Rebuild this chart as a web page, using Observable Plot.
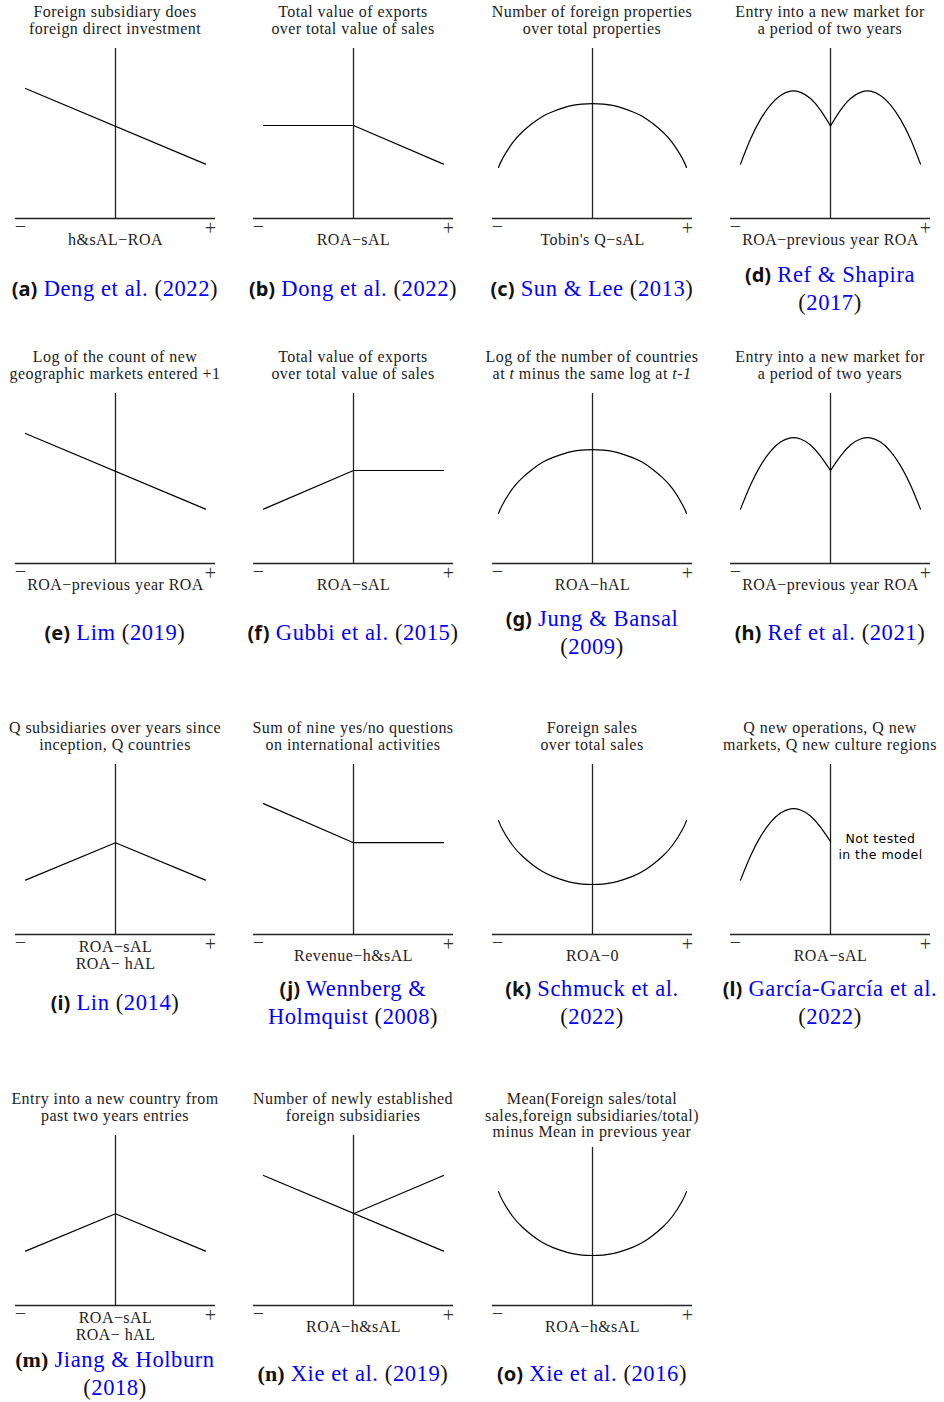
<!DOCTYPE html>
<html><head><meta charset="utf-8">
<script src="https://cdn.jsdelivr.net/npm/d3@7"></script>
<script src="https://cdn.jsdelivr.net/npm/@observablehq/plot@0.6"></script>
<style>
body{margin:0;background:#fff;}
#fig{position:relative;width:944px;height:1402px;overflow:hidden;background:#fff;}
.ttl{position:absolute;width:250px;text-align:center;font-family:"Liberation Serif",serif;font-size:16px;line-height:16.5px;letter-spacing:0.45px;color:#222;transform:translateX(-50%);}
.ttl div{height:16.5px;white-space:nowrap;}
.cap{position:absolute;width:240px;text-align:center;font-family:"Liberation Serif",serif;font-size:22.5px;line-height:28px;letter-spacing:0.6px;color:#111;transform:translate(-50%,-50%);}
.cap div{height:28px;white-space:nowrap;}
.cap b{font-family:"Noto Sans",sans-serif;font-weight:700;font-size:20px;letter-spacing:0;}
.cap b.srf{font-family:"Liberation Serif",serif;font-size:22px;}
.cap .bl{color:#0000ff;}
.panel{position:absolute;}
</style></head>
<body><div id="fig"></div>
<script>
// ---------- data ----------
const panelIds = ["a","b","c","d","e","f","g","h","i","j","k","l","m","n","o"];
const titles = [
  "Foreign subsidiary does\nforeign direct investment",
  "Total value of exports\nover total value of sales",
  "Number of foreign properties\nover total properties",
  "Entry into a new market for\na period of two years",
  "Log of the count of new\ngeographic markets entered +1",
  "Total value of exports\nover total value of sales",
  "Log of the number of countries\nat *t* minus the same log at *t-1*",
  "Entry into a new market for\na period of two years",
  "Q subsidiaries over years since\ninception, Q countries",
  "Sum of nine yes/no questions\non international activities",
  "Foreign sales\nover total sales",
  "Q new operations, Q new\nmarkets, Q new culture regions",
  "Entry into a new country from\npast two years entries",
  "Number of newly established\nforeign subsidiaries",
  "Mean(Foreign sales/total\nsales,foreign subsidiaries/total)\nminus Mean in previous year"
];
const xLabels = [
  "h&sAL\u2212ROA", "ROA\u2212sAL", "Tobin's Q\u2212sAL", "ROA\u2212previous year ROA",
  "ROA\u2212previous year ROA", "ROA\u2212sAL", "ROA\u2212hAL", "ROA\u2212previous year ROA",
  "ROA\u2212sAL\nROA\u2212 hAL", "Revenue\u2212h&sAL", "ROA\u22120", "ROA\u2212sAL",
  "ROA\u2212sAL\nROA\u2212 hAL", "ROA\u2212h&sAL", "ROA\u2212h&sAL"
];
const authors = [
  "Deng et al.", "Dong et al.", "Sun & Lee", "Ref & Shapira",
  "Lim", "Gubbi et al.", "Jung & Bansal", "Ref et al.",
  "Lin", "Wennberg &\nHolmquist", "Schmuck et al.", "García-García et al.",
  "Jiang & Holburn", "Xie et al.", "Xie et al."
];
const years = ["2022","2022","2013","2017","2019","2015","2009","2021","2014","2008","2022","2022","2018","2019","2016"];
const wrapYear = [false,false,false,true,false,false,true,false,false,false,true,true,true,false,false];

// curve points per panel: [segment, x, y]  (x: −1..1, y: 0..1 of axis height)
const shapeA = [[0,-0.9,0.765],[0,0.9,0.32]];
const shapeB = [[0,-0.9,0.547],[0,0,0.547],[0,0.9,0.32]];
const shapeC = [[0,-0.94,0.30],[0,-0.9,0.352],[0,-0.8,0.445],[0,-0.7,0.51],[0,-0.6,0.56],[0,-0.5,0.60],[0,-0.4,0.628],[0,-0.2,0.665],[0,0,0.676],[0,0.2,0.665],[0,0.4,0.628],[0,0.5,0.60],[0,0.6,0.56],[0,0.7,0.51],[0,0.8,0.445],[0,0.9,0.352],[0,0.94,0.30]];
const shapeD = [[0,-0.9,0.32],[0,-0.8,0.467],[0,-0.7,0.583],[0,-0.6,0.669],[0,-0.5,0.724],[0,-0.4,0.749],[0,-0.3,0.742],[0,-0.2,0.706],[0,-0.1,0.638],[0,0,0.545],
                [1,0,0.545],[1,0.1,0.638],[1,0.2,0.706],[1,0.3,0.742],[1,0.4,0.749],[1,0.5,0.724],[1,0.6,0.669],[1,0.7,0.583],[1,0.8,0.467],[1,0.9,0.32]];
const shapeE = [[0,-0.9,0.765],[0,0.9,0.32]];
const shapeF = [[0,-0.9,0.32],[0,0,0.547],[0,0.9,0.547]];
const shapeG = [[0,-0.94,0.294],[0,-0.9,0.346],[0,-0.8,0.44],[0,-0.7,0.505],[0,-0.6,0.555],[0,-0.5,0.595],[0,-0.4,0.623],[0,-0.2,0.66],[0,0,0.67],[0,0.2,0.66],[0,0.4,0.623],[0,0.5,0.595],[0,0.6,0.555],[0,0.7,0.505],[0,0.8,0.44],[0,0.9,0.346],[0,0.94,0.294]];
const shapeH = [[0,-0.9,0.32],[0,-0.8,0.462],[0,-0.7,0.576],[0,-0.6,0.66],[0,-0.5,0.714],[0,-0.4,0.739],[0,-0.3,0.732],[0,-0.2,0.697],[0,-0.1,0.632],[0,0,0.547],
                [1,0,0.547],[1,0.1,0.632],[1,0.2,0.697],[1,0.3,0.732],[1,0.4,0.739],[1,0.5,0.714],[1,0.6,0.66],[1,0.7,0.576],[1,0.8,0.462],[1,0.9,0.32]];
const shapeI = [[0,-0.9,0.32],[0,0,0.54],[0,0.9,0.32]];
const shapeJ = [[0,-0.9,0.77],[0,0,0.54],[0,0.9,0.54]];
const shapeK = [[0,-0.94,0.67],[0,-0.9,0.618],[0,-0.8,0.525],[0,-0.7,0.46],[0,-0.6,0.41],[0,-0.5,0.37],[0,-0.4,0.342],[0,-0.2,0.305],[0,0,0.294],[0,0.2,0.305],[0,0.4,0.342],[0,0.5,0.37],[0,0.6,0.41],[0,0.7,0.46],[0,0.8,0.525],[0,0.9,0.618],[0,0.94,0.67]];
const shapeL = [[0,-0.9,0.32],[0,-0.8,0.462],[0,-0.7,0.576],[0,-0.6,0.66],[0,-0.5,0.714],[0,-0.4,0.739],[0,-0.3,0.732],[0,-0.2,0.697],[0,-0.1,0.632],[0,0,0.547]];
const shapeM = [[0,-0.9,0.32],[0,0,0.54],[0,0.9,0.32]];
const shapeN = [[0,-0.9,0.765],[0,0.9,0.32],[1,0,0.54],[1,0.9,0.765]];
const shapeO = [[0,-0.94,0.67],[0,-0.9,0.618],[0,-0.8,0.525],[0,-0.7,0.46],[0,-0.6,0.41],[0,-0.5,0.37],[0,-0.4,0.342],[0,-0.2,0.305],[0,0,0.294],[0,0.2,0.305],[0,0.4,0.342],[0,0.5,0.37],[0,0.6,0.41],[0,0.7,0.46],[0,0.8,0.525],[0,0.9,0.618],[0,0.94,0.67]];
const shapes = [shapeA,shapeB,shapeC,shapeD,shapeE,shapeF,shapeG,shapeH,shapeI,shapeJ,shapeK,shapeL,shapeM,shapeN,shapeO];
const smooth = [false,false,true,true,false,false,true,true,false,false,true,true,false,false,true];
const verticalTop = [1,1,1,1,1,1,1,1,1,1,1,1,1,1,0.93];
const notes = {l: "Not tested\nin the model"};

// ---------- layout ----------
const colCenter = [115, 353, 592, 830];
const rowAxisTop = [48, 393, 764, 1135];
const rowCaption = [289, 633, 1003, 1374];
const W = 238, mL = 19, mR = 19, mT = 8, mB = 48, innerH = 170;

const fig = document.getElementById("fig");
const esc = s => s.replace(/&/g,"&amp;").replace(/</g,"&lt;");

panelIds.forEach((id, i) => {
  const col = i % 4, row = Math.floor(i / 4);
  const cx = colCenter[col], top = rowAxisTop[row];

  // title (one block per line)
  const t = document.createElement("div");
  t.className = "ttl";
  t.style.left = cx + "px";
  t.style.top = (top - 44) + "px";
  t.innerHTML = titles[i].split("\n")
    .map(line => `<div>${esc(line).replace(/\*([^*]+)\*/g, "<i>$1</i>")}</div>`).join("");
  fig.appendChild(t);

  // plot
  const pts = shapes[i].map(([seg, x, y]) => ({seg, x, y}));
  const marks = [
    Plot.ruleY([{y: 0, x1: -1, x2: 1}], {y: "y", x1: "x1", x2: "x2", stroke: "#222", strokeWidth: 1.3}),
    Plot.ruleX([{x: 0, y1: 0, y2: verticalTop[i]}], {x: "x", y1: "y1", y2: "y2", stroke: "#222", strokeWidth: 1.3}),
    Plot.line(pts, {x: "x", y: "y", z: "seg", curve: smooth[i] ? "natural" : "linear", stroke: "#000", strokeWidth: 1.2}),
    Plot.text([{x: -0.95, y: 0, s: "\u2212"}], {x: "x", y: "y", text: "s", dy: 8, fill: "#333", fontSize: 20}),
    Plot.text([{x: 0.95, y: 0, s: "+"}], {x: "x", y: "y", text: "s", dy: 10, fill: "#333", fontSize: 20}),
    Plot.text([{x: 0, y: 0, s: xLabels[i]}], {x: "x", y: "y", text: "s", dy: 21, lineAnchor: "middle", lineHeight: 1.05, fill: "#222"})
  ];
  if (notes[id]) {
    marks.push(Plot.text([{x: 0.5, y: 0.52, s: notes[id]}], {x: "x", y: "y", text: "s", fontFamily: "DejaVu Sans", fontSize: 12.5, lineHeight: 1.25, fill: "#000", style: "letter-spacing:0"}));
  }
  const p = Plot.plot({
    width: W, height: mT + innerH + mB,
    marginLeft: mL, marginRight: mR, marginTop: mT, marginBottom: mB,
    x: {domain: [-1, 1], axis: null},
    y: {domain: [0, 1], axis: null},
    style: {fontFamily: "'Liberation Serif', serif", fontSize: "16px", letterSpacing: "0.45px", background: "transparent", overflow: "visible"},
    marks
  });
  p.classList.add("panel");
  p.style.left = (cx - W / 2) + "px";
  p.style.top = (top - mT) + "px";
  fig.appendChild(p);

  // caption
  const c = document.createElement("div");
  c.className = "cap";
  c.style.left = cx + "px";
  c.style.top = rowCaption[row] + "px";
  const lbl = (id === "m" || id === "n") ? `<b class="srf">(${id})</b>` : `<b>(${id})</b>`;
  const authLines = authors[i].split("\n").map(s => `<span class="bl">${esc(s)}</span>`);
  const yearPart = `(<span class="bl">${years[i]}</span>)`;
  let lines;
  if (wrapYear[i]) lines = [`${lbl} ${authLines.join(" ")}`, yearPart];
  else if (authLines.length > 1) lines = [`${lbl} ${authLines[0]}`, `${authLines.slice(1).join(" ")} ${yearPart}`];
  else lines = [`${lbl} ${authLines[0]} ${yearPart}`];
  c.innerHTML = lines.map(l => `<div>${l}</div>`).join("");
  fig.appendChild(c);
});
</script></body></html>
